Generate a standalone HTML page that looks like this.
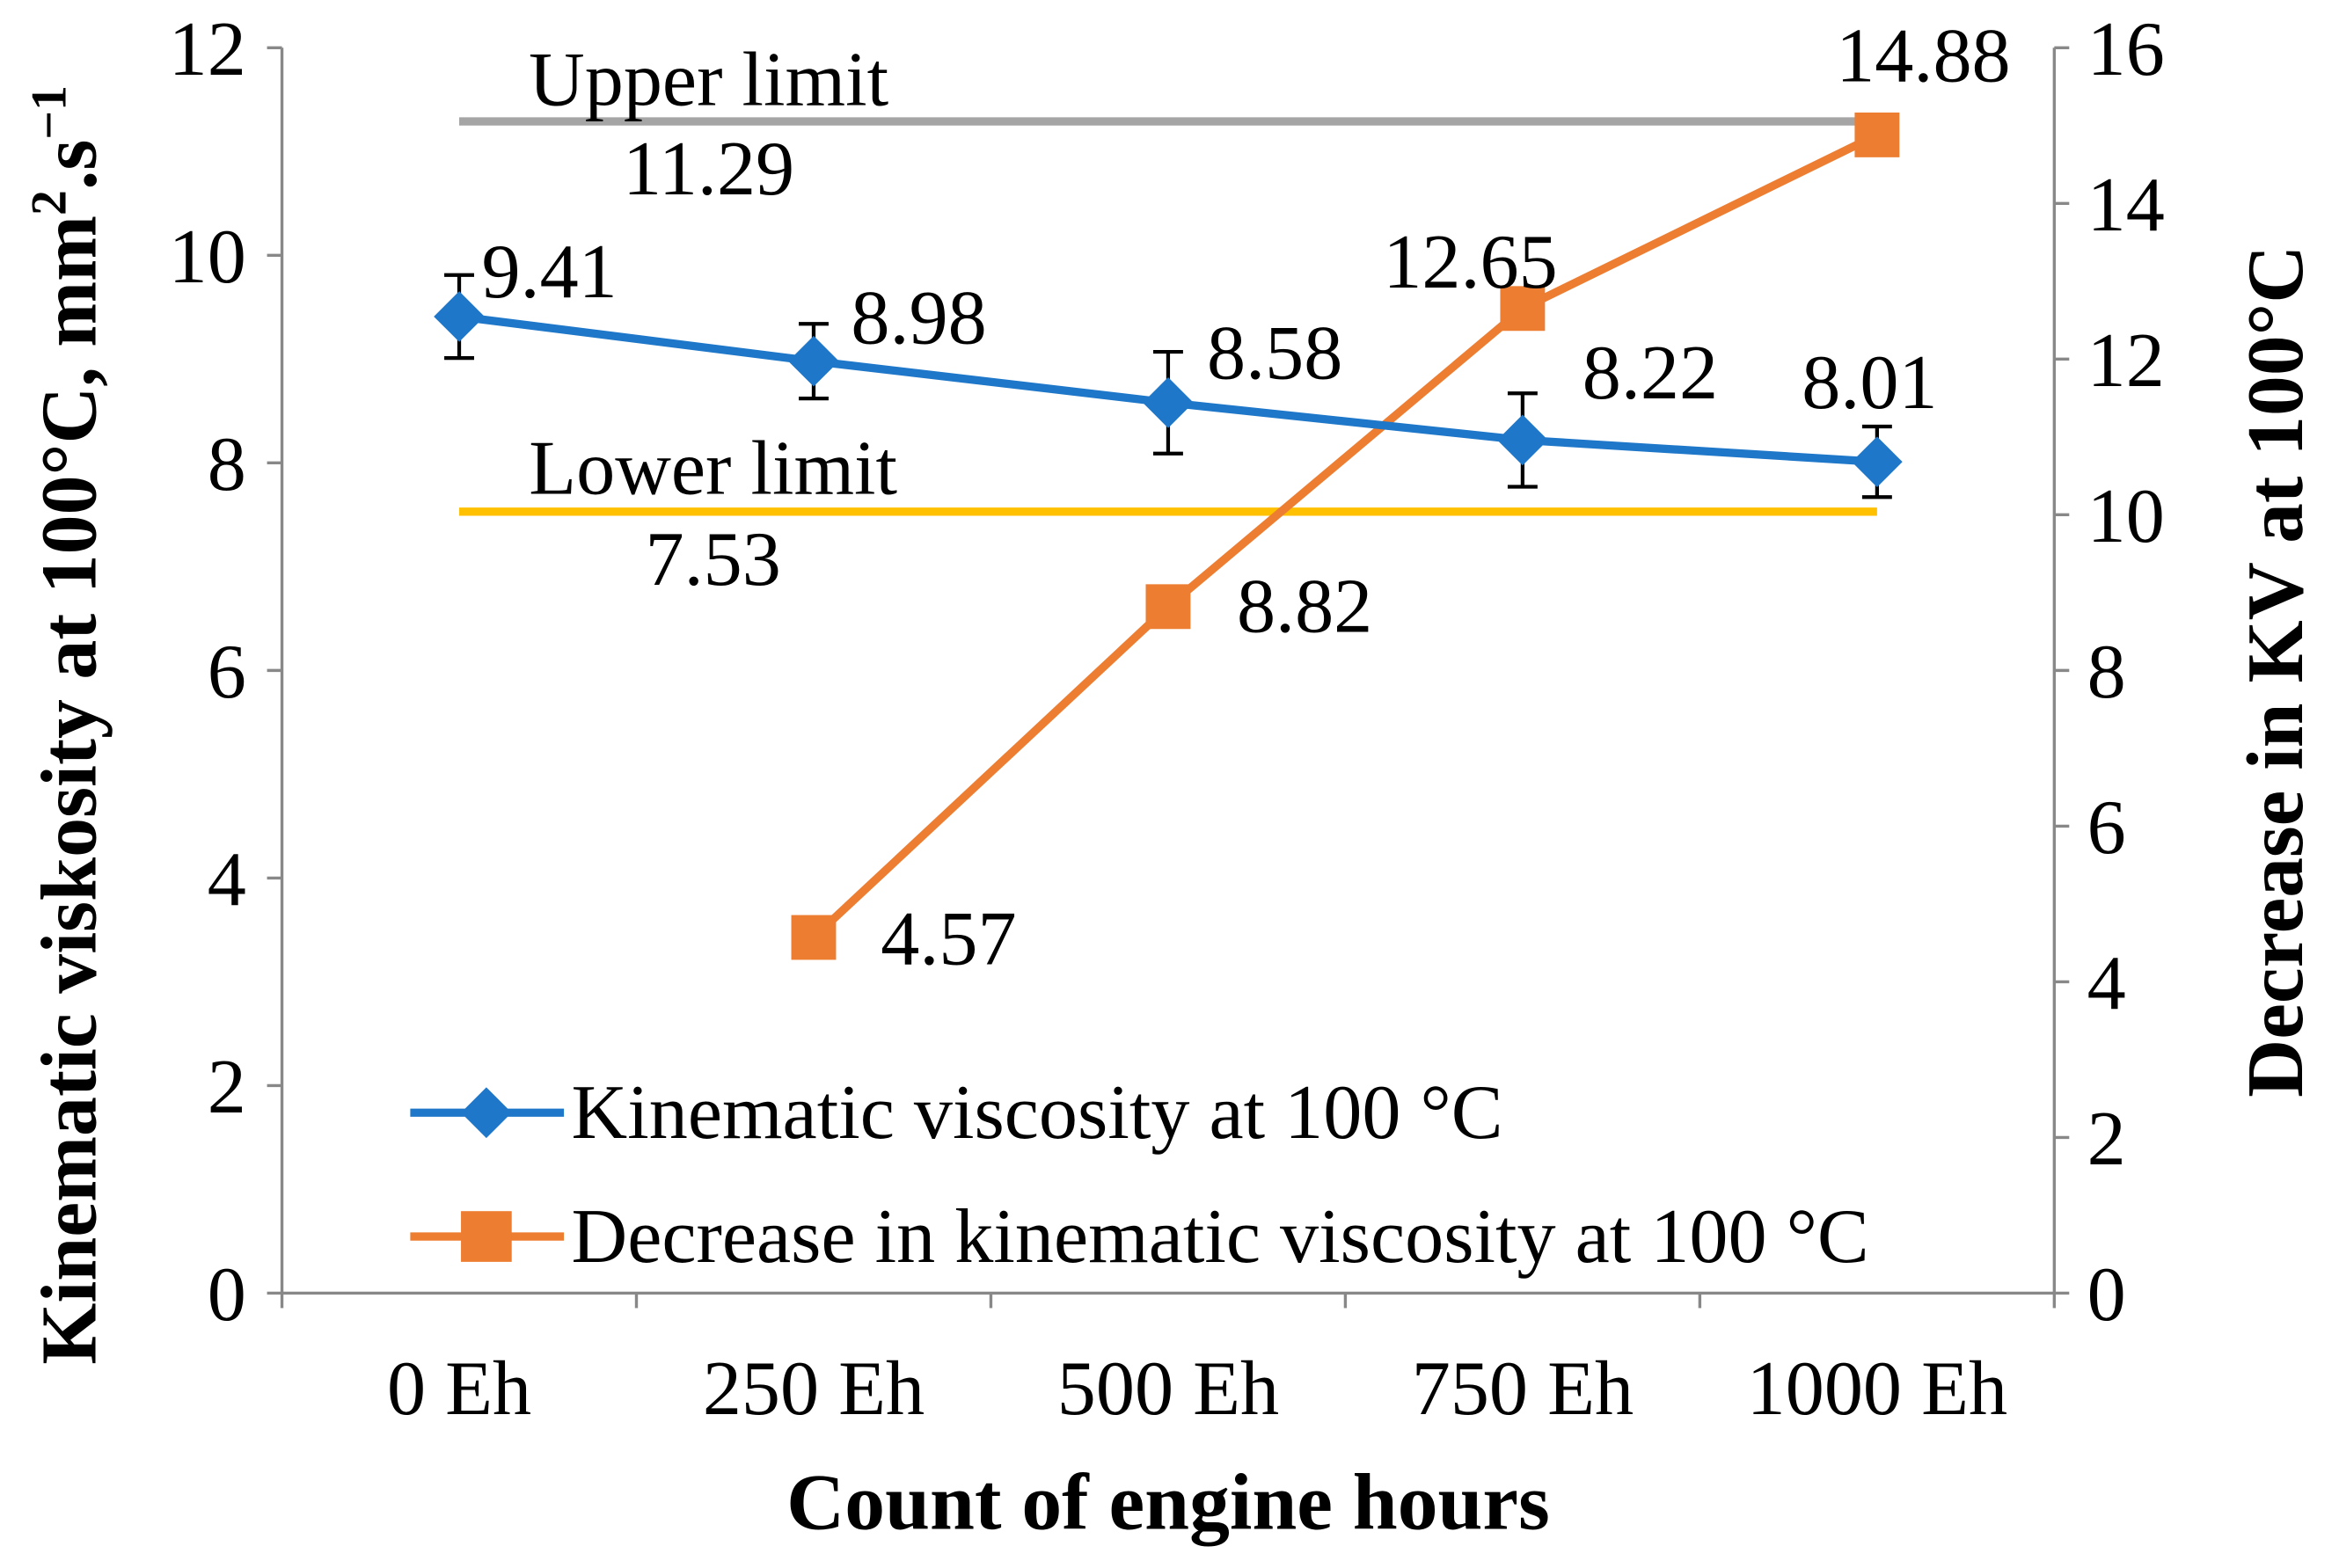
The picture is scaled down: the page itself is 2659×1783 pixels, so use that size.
<!DOCTYPE html>
<html><head><meta charset="utf-8"><style>html,body{margin:0;padding:0;background:#fff}svg{display:block}text{font-family:"Liberation Serif",serif}</style></head>
<body>
<svg width="2659" height="1783" viewBox="0 0 1560 1046" preserveAspectRatio="none" xmlns="http://www.w3.org/2000/svg">
<g id="g" transform="scale(0.995)"></g>
</svg>
<script>
const categories=["0 Eh","250 Eh","500 Eh","750 Eh","1000 Eh"];
const kv=[9.41,8.98,8.58,8.22,8.01];
const kvErr=[0.40,0.36,0.49,0.45,0.34];
const dec=[null,4.57,8.82,12.65,14.88];
const upperLimit=11.29, lowerLimit=7.53;
const leftTicks=[0,2,4,6,8,10,12];
const rightTicks=[0,2,4,6,8,10,12,14,16];
const L=189,R=1377,T=32,B=867;
const x=i=>L+(R-L)/categories.length*(i+0.5);
const yl=v=>B-(B-T)*v/12;
const yr=v=>B-(B-T)*v/16;
const g=document.getElementById('g');
const NS="http://www.w3.org/2000/svg";
const FS=52;
function el(tag,attrs,txt){const e=document.createElementNS(NS,tag);for(const k in attrs)e.setAttribute(k,attrs[k]);if(txt!=null)e.textContent=txt;g.appendChild(e);return e;}
let e;
e=el('line',{x1:L,y1:T,x2:L,y2:B,stroke:'#888','stroke-width':2});
e=el('line',{x1:R,y1:T,x2:R,y2:B,stroke:'#888','stroke-width':2});
e=el('line',{x1:L,y1:B,x2:R,y2:B,stroke:'#888','stroke-width':2});
leftTicks.forEach(v=>{el('line',{x1:L-10,y1:yl(v),x2:L,y2:yl(v),stroke:'#888','stroke-width':2});
e=el('text',{x:L-24,y:yl(v)+18,'text-anchor':'end','font-size':FS},v);});
rightTicks.forEach(v=>{el('line',{x1:R,y1:yr(v),x2:R+10,y2:yr(v),stroke:'#888','stroke-width':2});
e=el('text',{x:R+22,y:yr(v)+18,'font-size':FS},v);});
for(let i=0;i<=categories.length;i++){const xx=L+(R-L)/categories.length*i;el('line',{x1:xx,y1:B,x2:xx,y2:B+10,stroke:'#888','stroke-width':2});}
categories.forEach((c,i)=>{e=el('text',{x:x(i),y:948,'text-anchor':'middle','font-size':FS},c);});
e=el('line',{x1:x(0),y1:yl(upperLimit),x2:x(4),y2:yl(upperLimit),stroke:'#a5a5a5','stroke-width':5.5});
e=el('line',{x1:x(0),y1:yl(lowerLimit),x2:x(4),y2:yl(lowerLimit),stroke:'#ffc000','stroke-width':5.5});
e=el('text',{x:475,y:yl(upperLimit)-11,'text-anchor':'middle','font-size':FS},'Upper limit');
e=el('text',{x:475,y:yl(upperLimit)+49,'text-anchor':'middle','font-size':FS},upperLimit.toFixed(2));
e=el('text',{x:478,y:yl(lowerLimit)-12,'text-anchor':'middle','font-size':FS},'Lower limit');
e=el('text',{x:478,y:yl(lowerLimit)+49,'text-anchor':'middle','font-size':FS},lowerLimit.toFixed(2));
let pts=[];dec.forEach((v,i)=>{if(v!=null)pts.push(x(i)+','+yr(v));});
e=el('polyline',{points:pts.join(' '),fill:'none',stroke:'#ed7d31','stroke-width':5.5});
dec.forEach((v,i)=>{if(v==null)return;
e=el('rect',{x:x(i)-15,y:yr(v)-15,width:30,height:30,fill:'#ed7d31'});});
const decLab=[null,[45,18,'start'],[46,17,'start'],[-35,-14,'middle'],[31,-36,'middle']];
dec.forEach((v,i)=>{if(v==null)return;
e=el('text',{x:x(i)+decLab[i][0],y:yr(v)+decLab[i][1],'font-size':FS,'text-anchor':decLab[i][2]},v.toFixed(2));});
e=el('polyline',{points:kv.map((v,i)=>x(i)+','+yl(v)).join(' '),fill:'none',stroke:'#1f77c9','stroke-width':5.5});
kv.forEach((v,i)=>{const a=yl(v+kvErr[i]),b=yl(v-kvErr[i]);
e=el('path',{d:`M${x(i)},${a}V${b}M${x(i)-10},${a}h20M${x(i)-10},${b}h20`,stroke:'#000','stroke-width':2.5,fill:'none'});});
kv.forEach((v,i)=>{const xx=x(i),yy=yl(v);
e=el('path',{d:`M${xx},${yy-17}L${xx+17},${yy}L${xx},${yy+17}L${xx-17},${yy}Z`,fill:'#1f77c9'});});
const kvLab=[[15,-13,'start'],[25,-12,'start'],[26,-16,'start'],[40,-28,'start'],[-5,-36,'middle']];
kv.forEach((v,i)=>{e=el('text',{x:x(i)+kvLab[i][0],y:yl(v)+kvLab[i][1],'font-size':FS,'text-anchor':kvLab[i][2]},v.toFixed(2));});
e=el('line',{x1:275,y1:746,x2:378,y2:746,stroke:'#1f77c9','stroke-width':5.5});
el('path',{d:'M326,729L343,746L326,763L309,746Z',fill:'#1f77c9'});
e=el('text',{x:383,y:763,'font-size':FS},'Kinematic viscosity at 100 °C');
e=el('line',{x1:275,y1:829,x2:378,y2:829,stroke:'#ed7d31','stroke-width':5.5});
el('rect',{x:309,y:812,width:34,height:34,fill:'#ed7d31'});
e=el('text',{x:383,y:846,'font-size':FS},'Decrease in kinematic viscosity at 100 °C');
e=el('text',{x:783,y:1025,'text-anchor':'middle','font-size':54,'font-weight':'bold'},'Count of engine hours');
e=el('text',{x:0,y:0,'text-anchor':'middle','font-size':53,'font-weight':'bold',transform:'translate(64,486) rotate(-90)'});
e.innerHTML='Kinematic viskosity at 100°C, mm<tspan dy="-20" font-size="34">2</tspan><tspan dy="20">.s</tspan><tspan dy="-20" font-size="34">−1</tspan>';
e=el('text',{x:0,y:0,'text-anchor':'middle','font-size':54,'font-weight':'bold',transform:'translate(1543,450) rotate(-90)'},'Decrease in KV at 100°C');
</script>
</body></html>
